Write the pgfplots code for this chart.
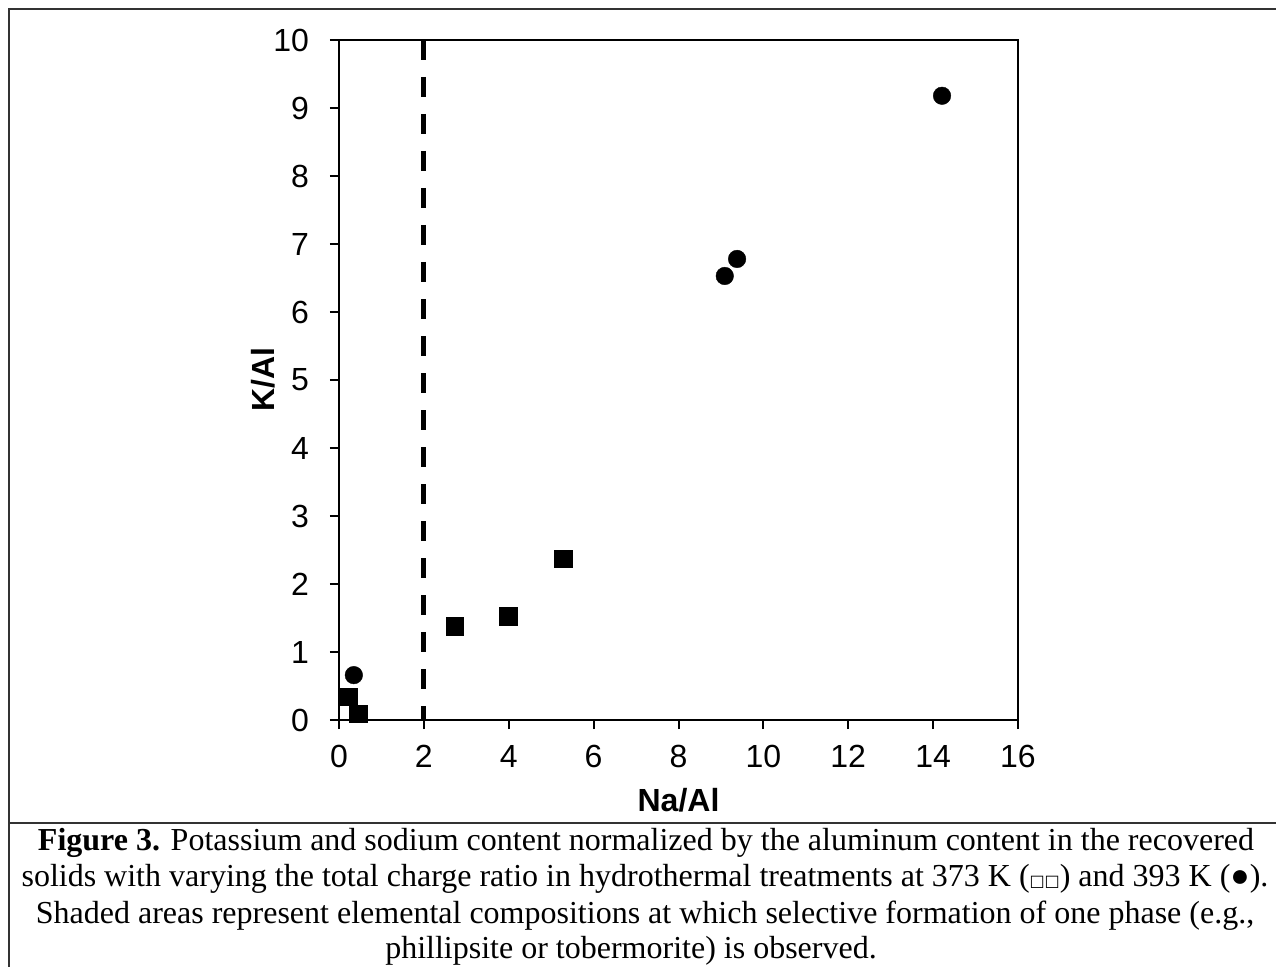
\documentclass[border=0pt]{standalone}
\usepackage{pgfplots}
\pgfplotsset{compat=1.18}
\usepackage{fontspec}
\setmainfont{Liberation Sans}
\newfontfamily\capfont{Liberation Serif}
\newfontfamily\symfont{DejaVu Sans}
\begin{document}
\begin{tikzpicture}
\useasboundingbox (0,0) rectangle (638pt,483pt);
% outer frame
\draw[black!80, line width=0.8pt] (640pt,478.5pt) -- (4.5pt,478.5pt) -- (4.5pt,-2pt);
\draw[black!80, line width=0.8pt] (4.5pt,71.5pt) -- (640pt,71.5pt);
\begin{axis}[
  at={(169.5pt,123pt)}, anchor=south west,
  scale only axis, width=339.5pt, height=340pt,
  xmin=0, xmax=16, ymin=0, ymax=10,
  xtick={0,2,...,16}, ytick={0,1,...,10},
  xtick pos=left, ytick pos=left,
  tick align=outside, major tick length=4.5pt,
  minor tick num=0,
  axis line style={line width=1pt},
  every tick/.style={black, line width=1pt},
  /pgf/number format/assume math mode=true,
  ticklabel style={font=\fontsize{16}{19}\selectfont},
  xticklabel style={yshift=-4.5pt},
  yticklabel style={xshift=-7pt},
  xlabel={\textbf{Na/Al}}, ylabel={\textbf{K/Al}},
  every axis x label/.style={at={(axis description cs:0.5,-0.1176)},anchor=center,font=\fontsize{16}{19}\selectfont},
  every axis y label/.style={at={(axis description cs:-0.1119,0.5)},anchor=center,rotate=90,font=\fontsize{16}{19}\selectfont},
  clip=false,
]
\addplot[black, line width=2.5pt, dash pattern=on 10pt off 8.5pt, line cap=butt] coordinates {(2,10) (2,0)};
\addplot[only marks, mark=square*, mark size=4.4pt, mark options={draw=black, fill=black, line width=0.2pt}] coordinates {
  (0.21,0.34) (0.45,0.09) (2.73,1.38) (3.98,1.53) (5.28,2.37)
};
\addplot[only marks, mark=*, mark size=4.4pt, mark options={draw=black, fill=black, line width=0.2pt}] coordinates {
  (0.35,0.66) (9.09,6.53) (9.38,6.78) (14.21,9.18)
};
\end{axis}
% caption
\begin{scope}[every node/.style={font=\capfont\fontsize{16}{19}\selectfont, anchor=base, inner sep=0pt}]
\node at (323pt,58pt) {\textbf{Figure 3.} Potassium and sodium content normalized by the aluminum content in the recovered};
\node at (322.5pt,39.7pt) {solids with varying the total charge ratio in hydrothermal treatments at 373 K ({\symfont\fontsize{8}{8}\selectfont □□}) and 393 K (●).};
\node at (322.5pt,21.4pt) {Shaded areas represent elemental compositions at which selective formation of one phase (e.g.,};
\node at (315.5pt,3.9pt) {phillipsite or tobermorite) is observed.};
\end{scope}
\end{tikzpicture}
\end{document}
